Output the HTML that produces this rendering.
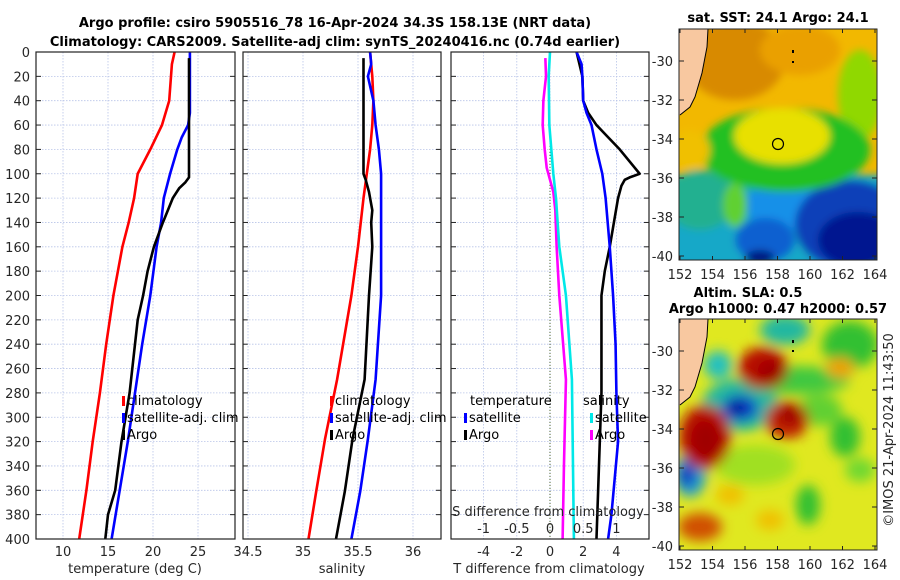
<!DOCTYPE html>
<html><head><meta charset="utf-8"><style>
body{margin:0;background:#fff;}
svg{display:block;font-family:"DejaVu Sans","Liberation Sans",sans-serif;}
.tk{font-size:13px;fill:#262626;}
.tt{font-size:13px;font-weight:bold;fill:#000;}
.lg{font-size:13px;fill:#000;}
</style></head><body>
<svg id="c" width="900" height="580" viewBox="0 0 900 580">
<defs>
<clipPath id="m1"><rect x="679" y="29" width="198" height="231"/></clipPath>
<clipPath id="m2"><rect x="679" y="319" width="198" height="231"/></clipPath>
<filter id="bl" x="-50%" y="-50%" width="200%" height="200%"><feGaussianBlur stdDeviation="6"/></filter>
<filter id="bl2" x="-50%" y="-50%" width="200%" height="200%"><feGaussianBlur stdDeviation="4"/></filter>
</defs>
<text class="tt" x="335" y="27" text-anchor="middle">Argo profile: csiro 5905516_78 16-Apr-2024 34.3S 158.13E (NRT data)</text>
<text class="tt" x="335" y="46" text-anchor="middle">Climatology: CARS2009. Satellite-adj clim: synTS_20240416.nc (0.74d earlier)</text>

<!-- SST map -->
<g clip-path="url(#m1)">
<rect x="679" y="29" width="198" height="231" fill="#f2b800"/>
<g filter="url(#bl2)">
<ellipse cx="735" cy="60" rx="50" ry="40" fill="#d88a00"/>
<ellipse cx="800" cy="50" rx="40" ry="25" fill="#eaa000"/>
<ellipse cx="860" cy="95" rx="22" ry="45" fill="#90d800"/>
<rect x="670" y="175" width="220" height="100" fill="#18a8c8"/>
<ellipse cx="700" cy="200" rx="35" ry="30" fill="#20b090"/>
<ellipse cx="790" cy="205" rx="45" ry="25" fill="#1890e8"/>
<ellipse cx="850" cy="225" rx="55" ry="45" fill="#0a40b8"/>
<ellipse cx="858" cy="240" rx="40" ry="28" fill="#001290"/>
<ellipse cx="765" cy="240" rx="30" ry="22" fill="#0860d0"/>
<ellipse cx="760" cy="258" rx="15" ry="8" fill="#001880"/>
<ellipse cx="785" cy="150" rx="85" ry="42" fill="#22c020"/>
<ellipse cx="735" cy="205" rx="12" ry="22" fill="#60d030"/>
<ellipse cx="782" cy="136" rx="48" ry="28" fill="#e8e000"/>
<ellipse cx="690" cy="150" rx="20" ry="20" fill="#f0c000"/>
</g>
<polygon points="679,29 708,29 707,47 702,73 695,97 690,107 680,115 679,115" fill="#f8c8a0"/>
<polyline points="708,29 707,47 702,73 695,97 690,107 680,115" fill="none" stroke="#000" stroke-width="1"/>
<circle cx="778" cy="144" r="5.5" fill="none" stroke="#000" stroke-width="1.2"/>
<rect x="792" y="50" width="2" height="3" fill="#000"/><rect x="792" y="61" width="2" height="2" fill="#000"/>
</g>
<rect x="679" y="29" width="198" height="231" fill="none" stroke="#222" stroke-width="1"/>
<text class="tt" x="778" y="22" text-anchor="middle">sat. SST: 24.1 Argo: 24.1</text>

<!-- SLA map -->
<g clip-path="url(#m2)">
<rect x="679" y="319" width="198" height="231" fill="#e0e820"/>
<g filter="url(#bl)">
<ellipse cx="785" cy="330" rx="25" ry="15" fill="#20b8a0"/>
<ellipse cx="850" cy="345" rx="28" ry="24" fill="#30c030"/>
<ellipse cx="740" cy="405" rx="38" ry="26" fill="#20b8a0"/>
<ellipse cx="718" cy="365" rx="14" ry="14" fill="#20c0c0"/>
<ellipse cx="795" cy="380" rx="55" ry="14" fill="#40c840"/>
<ellipse cx="845" cy="437" rx="15" ry="20" fill="#30c030"/>
<ellipse cx="808" cy="505" rx="12" ry="20" fill="#30c030"/>
<ellipse cx="820" cy="410" rx="22" ry="16" fill="#60d030"/>
<ellipse cx="860" cy="470" rx="15" ry="12" fill="#70d830"/>
<ellipse cx="755" cy="465" rx="40" ry="20" fill="#a0e020"/>
<ellipse cx="690" cy="475" rx="16" ry="22" fill="#20a0d0"/>
<ellipse cx="687" cy="475" rx="8" ry="12" fill="#0830c0"/>
<ellipse cx="763" cy="368" rx="25" ry="21" fill="#b81000"/>
<ellipse cx="787" cy="420" rx="22" ry="19" fill="#c02000"/>
<ellipse cx="705" cy="437" rx="26" ry="32" fill="#b81000"/>
<ellipse cx="700" cy="527" rx="22" ry="14" fill="#d05000"/>
<ellipse cx="840" cy="368" rx="14" ry="10" fill="#f0a000"/>
<ellipse cx="740" cy="408" rx="18" ry="13" fill="#1040c8"/>
<ellipse cx="737" cy="408" rx="8" ry="7" fill="#001090"/>
<ellipse cx="772" cy="372" rx="15" ry="13" fill="#a00000"/>
<ellipse cx="790" cy="415" rx="12" ry="10" fill="#a00000"/>
<ellipse cx="706" cy="440" rx="15" ry="20" fill="#a00000"/>
<ellipse cx="770" cy="520" rx="14" ry="10" fill="#f0c000"/>
<ellipse cx="730" cy="495" rx="14" ry="10" fill="#f0c000"/>
</g>
<polygon points="679,319 708,319 707,337 702,363 695,387 690,397 680,405 679,405" fill="#f8c8a0"/>
<polyline points="708,319 707,337 702,363 695,387 690,397 680,405" fill="none" stroke="#000" stroke-width="1"/>
<circle cx="778" cy="434" r="5.5" fill="none" stroke="#000" stroke-width="1.2"/>
<rect x="792" y="340" width="2" height="3" fill="#000"/><rect x="792" y="350" width="2" height="2" fill="#000"/>
</g>
<rect x="679" y="319" width="198" height="231" fill="none" stroke="#222" stroke-width="1"/>
<text class="tt" x="748" y="297" text-anchor="middle">Altim. SLA: 0.5</text>
<text class="tt" x="778" y="313" text-anchor="middle">Argo h1000: 0.47 h2000: 0.57</text>
<text class="tk" transform="translate(893,430) rotate(-90)" text-anchor="middle">©IMOS 21-Apr-2024 11:43:50</text>
<g id="axes"></g>
</svg>
<script>
// ---- data arrays ----
const depthTicks=[0,20,40,60,80,100,120,140,160,180,200,220,240,260,280,300,320,340,360,380,400];
const tempTicks=[10,15,20,25];
const salTicks=[34.5,35,35.5,36];
const salTickLabels=["34.5","35","35.5","36"];
const tdiffTicks=[-4,-2,0,2,4];
const sdiffTicks=[-1,-0.5,0,0.5,1];
const sdiffLabels=["-1","-0.5","0","0.5","1"];
const latTicks=[-30,-32,-34,-36,-38,-40];
const lonTicks=[152,154,156,158,160,162,164];

const tClimDepth=[0,10,40,60,80,100,120,140,160,200,240,280,320,360,400];
const tClimVal=[22.4,22.1,21.8,21.0,19.7,18.3,17.9,17.3,16.6,15.6,14.8,14.1,13.3,12.6,11.8];
const tSatDepth=[0,50,60,70,80,100,120,140,160,200,240,280,320,360,400];
const tSatVal=[24.1,24.1,23.9,23.2,22.7,21.9,21.2,20.9,20.4,19.7,18.8,18.0,17.2,16.3,15.4];
const tArgoDepth=[5,103,107,112,120,140,160,180,200,220,240,280,320,360,380,400];
const tArgoVal=[24.0,24.0,23.6,22.9,22.2,21.1,20.1,19.4,18.9,18.3,18.0,17.4,16.5,15.8,15.0,14.7];

const sClimDepth=[0,20,40,60,80,100,120,160,200,269,318,361,400];
const sClimVal=[35.61,35.63,35.64,35.63,35.61,35.58,35.55,35.50,35.44,35.31,35.20,35.12,35.05];
const sSatDepth=[0,10,20,40,60,80,100,200,269,318,361,400];
const sSatVal=[35.61,35.62,35.59,35.64,35.66,35.69,35.71,35.71,35.66,35.59,35.52,35.44];
const sArgoDepth=[5,100,105,115,130,140,160,200,269,318,361,400];
const sArgoVal=[35.55,35.55,35.57,35.60,35.63,35.62,35.63,35.60,35.56,35.45,35.38,35.30];

const dtSatDepth=[0,10,20,40,50,60,80,100,120,160,200,240,280,320,350,380,400];
const dtSatVal=[1.6,1.9,1.95,2.0,2.2,2.5,2.8,3.15,3.35,3.6,3.8,3.95,4.0,4.1,3.9,3.7,3.5];
const dtArgoDepth=[0,20,40,50,60,70,80,90,100,103,105,110,120,140,160,180,200,240,280,320,360,400];
const dtArgoVal=[1.6,1.95,2.0,2.3,2.8,3.5,4.2,4.8,5.4,4.8,4.5,4.3,4.1,3.85,3.6,3.3,3.1,3.1,3.1,3.0,2.9,2.8];
const dsSatDepth=[0,20,60,100,120,160,200,269,400];
const dsSatVal=[0.0,-0.02,-0.01,0.05,0.09,0.14,0.24,0.33,0.36];
const dsArgoDepth=[5,20,40,60,80,95,105,115,130,160,200,269,340,400];
const dsArgoVal=[-0.07,-0.06,-0.1,-0.11,-0.08,-0.05,0.0,0.05,0.08,0.1,0.14,0.24,0.21,0.19];

// ---- scales ----
const Y0=52,Y1=539;
const yD=d=>Y0+d*(Y1-Y0)/400;
const xT=t=>63+(t-10)*9;
const xS=s=>303+(s-35)*110;
const xDT=t=>550+t*16.6;
const xDS=s=>550+s*66.4;
const xLon=l=>680+(l-152)*16.25;
const yLat1=l=>61+(-30-l)*19.5;
const yLat2=l=>351+(-30-l)*19.5;

const NS='http://www.w3.org/2000/svg';
const G=document.getElementById('axes');
function mk(tag,attrs,parent){const e=document.createElementNS(NS,tag);for(const k in attrs)e.setAttribute(k,attrs[k]);(parent||G).appendChild(e);return e;}
function txt(x,y,s,cls,anchor){const e=mk('text',{x:x,y:y,class:cls,'text-anchor':anchor||'middle'});e.textContent=s;return e;}

function panel(name,x0,x1,xt,xf){
  const g=mk('g',{});
  
  
  mk('rect',{x:x0,y:Y0,width:x1-x0,height:Y1-Y0,fill:'#fff'},g);
  depthTicks.forEach(d=>{mk('line',{x1:x0,x2:x1,y1:yD(d),y2:yD(d),stroke:'#b8c4e8','stroke-width':0.8,'stroke-dasharray':'1.5,1.5'},g);
    mk('line',{x1:x0,x2:x0+5,y1:yD(d),y2:yD(d),stroke:'#222'},g);mk('line',{x1:x1-5,x2:x1,y1:yD(d),y2:yD(d),stroke:'#222'},g);});
  xt.forEach(v=>{mk('line',{x1:xf(v),x2:xf(v),y1:Y0,y2:Y1,stroke:'#b8c4e8','stroke-width':0.8,'stroke-dasharray':'1.5,1.5'},g);});
  return g;
}
function curve(g,name,depths,vals,xf,col,w){
  const p=mk('polyline',{points:depths.map((d,i)=>xf(vals[i])+','+yD(d)).join(' '),fill:'none',stroke:col,'stroke-width':w||2.6,'stroke-linejoin':'round'},g);
  
  
}
function frame(x0,x1){mk('rect',{x:x0,y:Y0,width:x1-x0,height:Y1-Y0,fill:'none',stroke:'#222','stroke-width':1.2});}
function legItem(x,y,col,label){mk('rect',{x:x,y:y-9,width:3,height:10,fill:col});txt(x+5,y,label,'lg','start');}

// Panel 1
const p1=panel('temperature-panel',36,235,tempTicks,xT);
curve(p1,'temp-climatology-line',tClimDepth,tClimVal,xT,'#ff0000');
curve(p1,'temp-satellite-line',tSatDepth,tSatVal,xT,'#0000ff');
curve(p1,'temp-argo-line',tArgoDepth,tArgoVal,xT,'#000000');
frame(36,235);
depthTicks.forEach(d=>txt(30,yD(d)+5,String(d),'tk','end'));
tempTicks.forEach(v=>txt(xT(v),556,String(v),'tk'));
txt(135,573,'temperature (deg C)','tk');
legItem(122,405,'#ff0000','climatology');legItem(122,422,'#0000ff','satellite-adj. clim');legItem(122,439,'#000','Argo');

// Panel 2
const p2=panel('salinity-panel',243,441,salTicks,xS);
curve(p2,'sal-climatology-line',sClimDepth,sClimVal,xS,'#ff0000');
curve(p2,'sal-satellite-line',sSatDepth,sSatVal,xS,'#0000ff');
curve(p2,'sal-argo-line',sArgoDepth,sArgoVal,xS,'#000000');
frame(243,441);
salTicks.forEach((v,i)=>txt(xS(v),556,salTickLabels[i],'tk'));
txt(342,573,'salinity','tk');
legItem(330,405,'#ff0000','climatology');legItem(330,422,'#0000ff','satellite-adj. clim');legItem(330,439,'#000','Argo');

// Panel 3
const p3=panel('difference-panel',451,649,tdiffTicks,xDT);
mk('line',{x1:550,x2:550,y1:yD(60),y2:Y1,stroke:'#556b2f','stroke-width':1,'stroke-dasharray':'1,2'},p3);
curve(p3,'sdiff-argo-line',dsArgoDepth,dsArgoVal,xDS,'#ff00ff');
curve(p3,'sdiff-satellite-line',dsSatDepth,dsSatVal,xDS,'#00e8e8');
curve(p3,'tdiff-argo-line',dtArgoDepth,dtArgoVal,xDT,'#000000');
curve(p3,'tdiff-satellite-line',dtSatDepth,dtSatVal,xDT,'#0000ff');
frame(451,649);
tdiffTicks.forEach(v=>txt(xDT(v),556,String(v),'tk'));
txt(549,573,'T difference from climatology','tk');
sdiffTicks.forEach((v,i)=>txt(xDS(v),533,sdiffLabels[i],'tk'));
txt(548,516,'S difference from climatology','tk');
txt(470,405,'temperature','lg','start');txt(583,405,'salinity','lg','start');
legItem(464,422,'#0000ff','satellite');legItem(464,439,'#000','Argo');
legItem(590,422,'#00e8e8','satellite');legItem(590,439,'#ff00ff','Argo');

// map ticks
function mapTicks(yLat,top,bot){
  latTicks.forEach(l=>{const y=yLat(l);mk('line',{x1:679,x2:684,y1:y,y2:y,stroke:'#222'});mk('line',{x1:872,x2:877,y1:y,y2:y,stroke:'#222'});txt(673,y+5,String(l),'tk','end');});
  lonTicks.forEach(l=>{const x=xLon(l);mk('line',{x1:x,x2:x,y1:bot,y2:bot-4,stroke:'#222'});mk('line',{x1:x,x2:x,y1:top,y2:top+4,stroke:'#222'});txt(x,bot+19,String(l),'tk');});
}
mapTicks(yLat1,29,260);
mapTicks(yLat2,319,550);
</script>
</body></html>
